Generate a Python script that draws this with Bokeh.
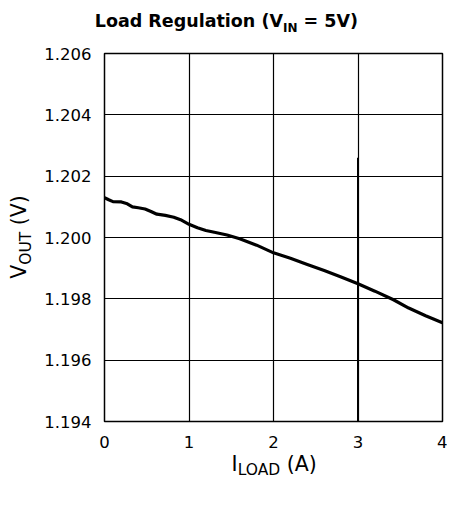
from bokeh.plotting import figure
from bokeh.models import Range1d, FixedTicker, PrintfTickFormatter, Div
from bokeh.layouts import column, row
from bokeh.embed import file_html
from bokeh.resources import INLINE

# ---- data ----
i_load = [0.00, 0.05, 0.10, 0.20, 0.27, 0.33, 0.40, 0.48, 0.55, 0.62, 0.72,
          0.82, 0.90, 1.00, 1.10, 1.20, 1.30, 1.45, 1.60, 1.80, 2.00, 2.20,
          2.40, 2.60, 2.80, 3.00, 3.20, 3.42, 3.60, 3.80, 4.00]
v_out = [1.20130, 1.20123, 1.20117, 1.20116, 1.20110, 1.20100, 1.20097,
         1.20093, 1.20085, 1.20076, 1.20072, 1.20066, 1.20058, 1.20043,
         1.20032, 1.20023, 1.20017, 1.20008, 1.19996, 1.19975, 1.19950,
         1.19932, 1.19912, 1.19892, 1.19871, 1.19849, 1.19825, 1.19797,
         1.19770, 1.19745, 1.19722]
x_ticks = [0, 1, 2, 3, 4]
y_ticks = [1.194, 1.196, 1.198, 1.200, 1.202, 1.204, 1.206]
cursor_x = [3.0]
cursor_bottom = [1.194]
cursor_top = [1.2026]

title_main, title_sub, title_tail = "Load Regulation (V", "IN", " = 5V)"
xlab_main, xlab_sub, xlab_tail = "I", "LOAD", " (A)"
ylab_main, ylab_sub, ylab_tail = "V", "OUT", " (V)"

X0, X1 = 0.0, 4.0
Y0, Y1 = 1.194, 1.206

# ---- layout (canvas pixels) ----
TOTAL_W, TOTAL_H = 447, 489
TITLE_H = 40          # title strip on top
YLAB_W = 36           # y-label strip on the left
FRAME_L, FRAME_R, FRAME_T, FRAME_B = 104, 442, 53, 421
FIG_W = TOTAL_W - YLAB_W
FIG_BOTTOM = 36
FIG_H = (FRAME_T - TITLE_H) + (FRAME_B - FRAME_T) + FIG_BOTTOM
XLAB_H = TOTAL_H - TITLE_H - FIG_H
FONT = "DejaVu Sans"

p = figure(width=FIG_W, height=FIG_H, x_range=Range1d(X0, X1),
           y_range=Range1d(Y0, Y1), output_backend="svg",
           toolbar_location=None, title=None,
           min_border_left=FRAME_L - YLAB_W, min_border_right=TOTAL_W - FRAME_R,
           min_border_top=FRAME_T - TITLE_H, min_border_bottom=FIG_BOTTOM,
           margin=0)
p.background_fill_color = "white"
p.border_fill_color = "white"
p.outline_line_color = "black"
p.outline_line_width = 1.5

for ax in (p.xaxis[0], p.yaxis[0]):
    ax.axis_line_color = None
    ax.major_tick_in = 0
    ax.major_tick_out = 0
    ax.minor_tick_line_color = None
    ax.major_label_text_font = FONT
    ax.major_label_text_font_size = "16.5px"
    ax.major_label_text_color = "black"

p.xaxis.ticker = FixedTicker(ticks=x_ticks)
p.yaxis.ticker = FixedTicker(ticks=y_ticks)
p.yaxis.formatter = PrintfTickFormatter(format="%.3f")
p.xaxis.major_label_standoff = 14
p.yaxis.major_label_standoff = 13

p.xgrid.ticker = FixedTicker(ticks=x_ticks)
p.ygrid.ticker = FixedTicker(ticks=y_ticks)
for g in (p.xgrid[0], p.ygrid[0]):
    g.grid_line_color = "black"
    g.grid_line_width = 1.2
    g.grid_line_alpha = 1.0

p.segment(x0=cursor_x, y0=cursor_bottom, x1=cursor_x, y1=cursor_top,
          line_color="black", line_width=2)
p.line(i_load, v_out, line_color="black", line_width=3.2)


def svg_text(w, h, body):
    return (f'<svg xmlns="http://www.w3.org/2000/svg" width="{w}" height="{h}" '
            f'style="display:block;overflow:visible">{body}</svg>')


def sub_text(attrs, main, sub, tail, main_size, sub_size, shift, bold=False):
    weight = "bold" if bold else "normal"
    base = (f"font-family:'{FONT}';font-weight:{weight};fill:black;"
            "white-space:pre;font-style:normal;")
    return (f'<text {attrs} style="{base}font-size:{main_size}px">'
            f'{main}<tspan dy="{shift}" style="font-size:{sub_size}px">{sub}</tspan>'
            f'<tspan dy="{-shift}" style="font-size:{main_size}px">{tail}</tspan></text>')


title_div = Div(
    text=svg_text(TOTAL_W, TITLE_H, sub_text(
        'x="226.4" y="26.8" text-anchor="middle"',
        title_main, title_sub, title_tail, 17.5, 12, 5.4, bold=True)),
    width=TOTAL_W, height=TITLE_H, margin=0)

ylab_div = Div(
    text=svg_text(YLAB_W, FIG_H, sub_text(
        f'transform="translate(26,{(FRAME_T + FRAME_B) / 2 - TITLE_H}) rotate(-90)" '
        'text-anchor="middle"',
        ylab_main, ylab_sub, ylab_tail, 20.5, 15.5, 5)),
    width=YLAB_W, height=FIG_H, margin=0)

xlab_div = Div(
    text=svg_text(TOTAL_W, XLAB_H, sub_text(
        f'x="274.2" y="{471.3 - TITLE_H - FIG_H}" text-anchor="middle"',
        xlab_main, xlab_sub, xlab_tail, 20.5, 15.5, 4)),
    width=TOTAL_W, height=XLAB_H, margin=0)

layout = column(title_div, row(ylab_div, p, spacing=0, margin=0),
                xlab_div, spacing=0, margin=0)

open("out.html", "w").write(file_html(layout, INLINE))
